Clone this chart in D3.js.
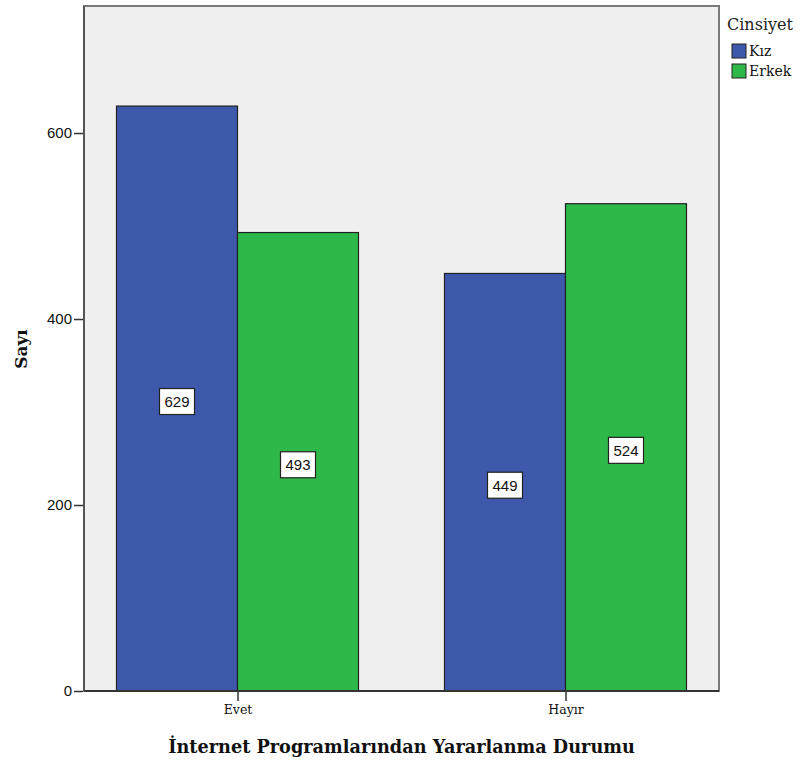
<!DOCTYPE html>
<html><head><meta charset="utf-8">
<script src="https://cdn.jsdelivr.net/npm/d3@7"></script>
<style>body{margin:0;background:#fff}</style>
</head><body>
<svg id="c" width="800" height="763"></svg>
<script>
const categories = ["Evet", "Hayır"];
const seriesNames = ["Kız", "Erkek"];
const kiz = [629, 449];
const erkek = [493, 524];
const yTicks = [0, 200, 400, 600];
const colors = ["#3e58ac", "#2fb84a"];

const SERIF = "DejaVu Serif, serif";
const SANS = "Arial, Liberation Sans, sans-serif";
const svg = d3.select("#c");
const L = 84, R = 719, T = 6, B = 691;
const y = d3.scaleLinear().domain([0, 736.6]).range([B, T]);
const x = d3.scalePoint().domain(categories).range([L, R]).padding(0.468);
const barW = 121;

svg.append("rect").attr("x", L).attr("y", T).attr("width", R - L).attr("height", B - T)
  .attr("fill", "#f0f0f0");

categories.forEach((c, i) => {
  [kiz[i], erkek[i]].forEach((v, j) => {
    const x0 = x(c) + (j - 1) * barW;
    svg.append("rect").attr("x", x0).attr("y", y(v)).attr("width", barW).attr("height", y(0) - y(v))
      .attr("fill", colors[j]).attr("stroke", "#222").attr("stroke-width", 1.2);
  });
});
categories.forEach((c, i) => {
  [kiz[i], erkek[i]].forEach((v, j) => {
    const cx = x(c) + (j - 0.5) * barW;
    const cy = (y(v) + y(0)) / 2 + 3;
    svg.append("rect").attr("x", cx - 17.5).attr("y", cy - 13).attr("width", 35).attr("height", 26)
      .attr("fill", "#fff").attr("stroke", "#222").attr("stroke-width", 1.2);
    svg.append("text").attr("x", cx).attr("y", cy + 5.5).attr("text-anchor", "middle")
      .attr("font-family", SANS).attr("font-size", 15).attr("fill", "#111").text(v);
  });
});
svg.append("rect").attr("x", L).attr("y", T).attr("width", R - L).attr("height", B - T)
  .attr("fill", "none").attr("stroke", "#7a7a7a").attr("stroke-width", 2);
svg.append("line").attr("x1", L).attr("x2", R).attr("y1", B).attr("y2", B).attr("stroke", "#333").attr("stroke-width", 2);
svg.append("line").attr("x1", L).attr("x2", L).attr("y1", T).attr("y2", B).attr("stroke", "#555").attr("stroke-width", 2);

const yAxis = d3.axisLeft(y).tickValues(yTicks).tickSize(9).tickPadding(2);
const gy = svg.append("g").attr("transform", `translate(${L - 1},0)`).call(yAxis);
gy.select(".domain").remove();
gy.selectAll("line").attr("stroke", "#333").attr("stroke-width", 1.5);
gy.selectAll("text").attr("font-family", SANS).attr("font-size", 15).attr("fill", "#111");

const xAxis = d3.axisBottom(x).tickSize(10).tickPadding(4);
const gx = svg.append("g").attr("transform", `translate(0,${B})`).call(xAxis);
gx.select(".domain").remove();
gx.selectAll("line").attr("stroke", "#333").attr("stroke-width", 1.5);
gx.selectAll("text").attr("font-family", SERIF).attr("font-size", 12.5).attr("fill", "#111");

svg.append("text").attr("x", 401.5).attr("y", 753).attr("text-anchor", "middle")
  .attr("font-family", SERIF).attr("font-weight", "bold").attr("font-size", 17.7).attr("fill", "#111")
  .text("İnternet Programlarından Yararlanma Durumu");
svg.append("text").attr("transform", "translate(27,349) rotate(-90)").attr("text-anchor", "middle")
  .attr("font-family", SERIF).attr("font-weight", "bold").attr("font-size", 17).attr("fill", "#111")
  .text("Sayı");

svg.append("text").attr("x", 727).attr("y", 30).attr("font-family", SERIF).attr("font-size", 16).attr("fill", "#222").text("Cinsiyet");
seriesNames.forEach((n, j) => {
  svg.append("rect").attr("x", 732).attr("y", 44 + j * 20).attr("width", 14).attr("height", 14)
    .attr("fill", colors[j]).attr("stroke", "#222").attr("stroke-width", 1);
  svg.append("text").attr("x", 749).attr("y", 56 + j * 20).attr("font-family", SERIF)
    .attr("font-size", 14).attr("fill", "#111").text(n);
});
</script>
</body></html>
